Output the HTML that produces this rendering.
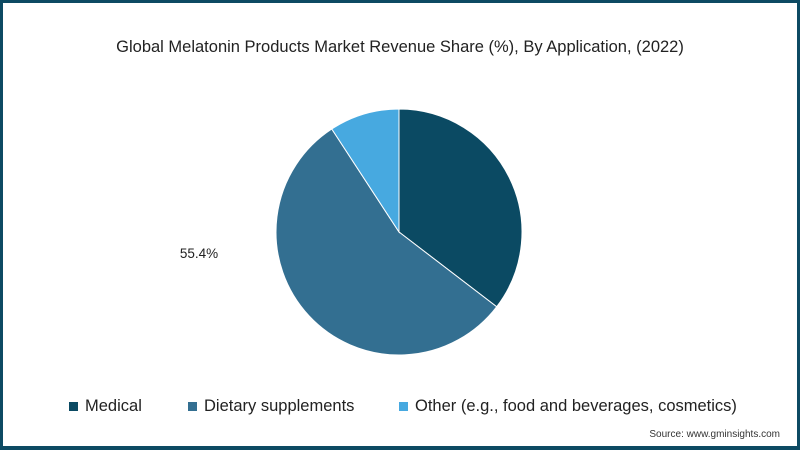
<!DOCTYPE html>
<html><head><meta charset="utf-8"><style>
html,body{margin:0;padding:0;background:#fff;}
#wrap{position:relative;width:800px;height:450px;box-sizing:border-box;border:3px solid #0d4a63;border-bottom-width:4px;background:#fff;font-family:"Liberation Sans",sans-serif;overflow:hidden;}
svg{position:absolute;left:-3px;top:-3px;}
</style></head><body>
<div id="wrap">
<svg id="chart" width="800" height="450">
<text x="400" y="52" text-anchor="middle" font-size="16.5" fill="#222">Global Melatonin Products  Market Revenue Share (%), By Application, (2022)</text>
<g id="slices"></g>
<text x="199" y="258" text-anchor="middle" font-size="13.5" fill="#222">55.4%</text>
<g>
<rect x="69" y="402" width="9" height="9" fill="#0b4a63"/>
<text x="85" y="411" font-size="16.5" fill="#222">Medical</text>
<rect x="188" y="402" width="9" height="9" fill="#336f91"/>
<text x="204" y="411" font-size="16.5" fill="#222">Dietary supplements</text>
<rect x="399" y="402" width="9" height="9" fill="#47a9e0"/>
<text x="415" y="411" font-size="16.5" fill="#222">Other (e.g., food and beverages, cosmetics)</text>
</g>
<text x="780" y="437" text-anchor="end" font-size="10" fill="#333">Source: www.gminsights.com</text>
</svg>
</div>
<script>
const categories=["Medical","Dietary supplements","Other"];
const values=[35.4,55.4,9.2];
const colors=["#0b4a63","#336f91","#47a9e0"];
const cx=399,cy=232,r=123;
const g=document.getElementById('slices');
const total=values.reduce((a,b)=>a+b,0);
let acc=0;
values.forEach((v,i)=>{
  const a0=acc/total*2*Math.PI; acc+=v; const a1=acc/total*2*Math.PI;
  const x0=cx+r*Math.sin(a0),y0=cy-r*Math.cos(a0),x1=cx+r*Math.sin(a1),y1=cy-r*Math.cos(a1);
  const large=(a1-a0)>Math.PI?1:0;
  const p=document.createElementNS('http://www.w3.org/2000/svg','path');
  p.setAttribute('d',`M${cx},${cy}L${x0},${y0}A${r},${r} 0 ${large} 1 ${x1},${y1}Z`);
  p.setAttribute('fill',colors[i]);
  p.setAttribute('stroke','#fff');
  p.setAttribute('stroke-width','1');
  
  
  g.appendChild(p);
});
</script>
</body></html>
